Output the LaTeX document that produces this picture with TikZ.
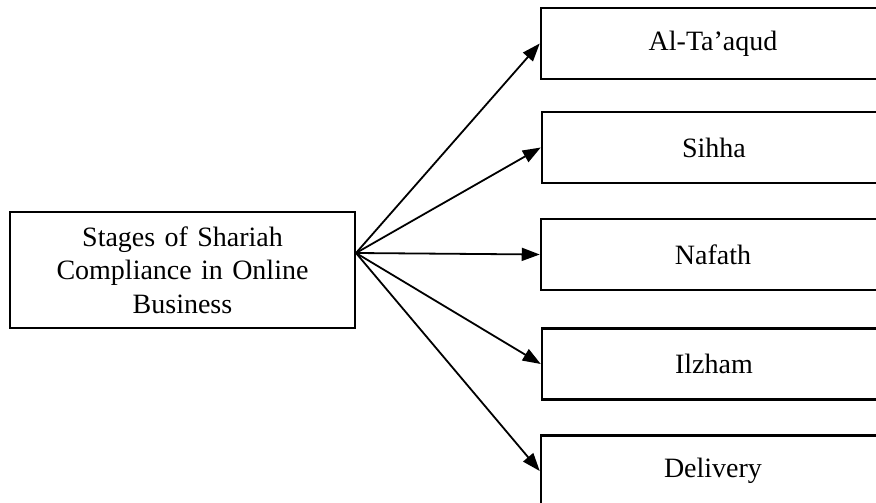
\documentclass[tikz,border=0pt]{standalone}
\usepackage{fontspec}
\setmainfont{Liberation Serif}
\usetikzlibrary{arrows.meta}
\begin{document}
\begin{tikzpicture}[x=1pt,y=-1pt,
  box/.style={draw,line width=2.5pt,rectangle,inner sep=0pt,font=\fontsize{28}{33.5}\selectfont},
  mainbox/.style={box,minimum width=345pt,minimum height=116pt,text width=320pt,align=center},
  stagebox/.style={box,minimum width=344pt,minimum height=71pt},
  conn/.style={line width=1.8pt,-{Triangle[length=18pt,width=13pt]}}]
\useasboundingbox (0,0) rectangle (876,503);
\begin{scope}
\clip (0,0) rectangle (876,503);
\node[mainbox] (main) at (182.5,270) {Stages of Shariah\\Compliance in Online\\Business};
\node[stagebox] (b1) at (713,43.5) {Al-Ta’aqud};
\node[stagebox] (b2) at (714,147.5) {Sihha};
\node[stagebox] (b3) at (713,254.5) {Nafath};
\node[stagebox] (b4) at (714,364) {Ilzham};
\node[stagebox] (b5) at (713,471) {Delivery};
\coordinate (src) at (356,253);
\draw[conn] (src) -- (b1.west);
\draw[conn] (src) -- (b2.west);
\draw[conn] (src) -- (b3.west);
\draw[conn] (src) -- (b4.west);
\draw[conn] (src) -- (b5.west);
\end{scope}
\end{tikzpicture}
\end{document}
